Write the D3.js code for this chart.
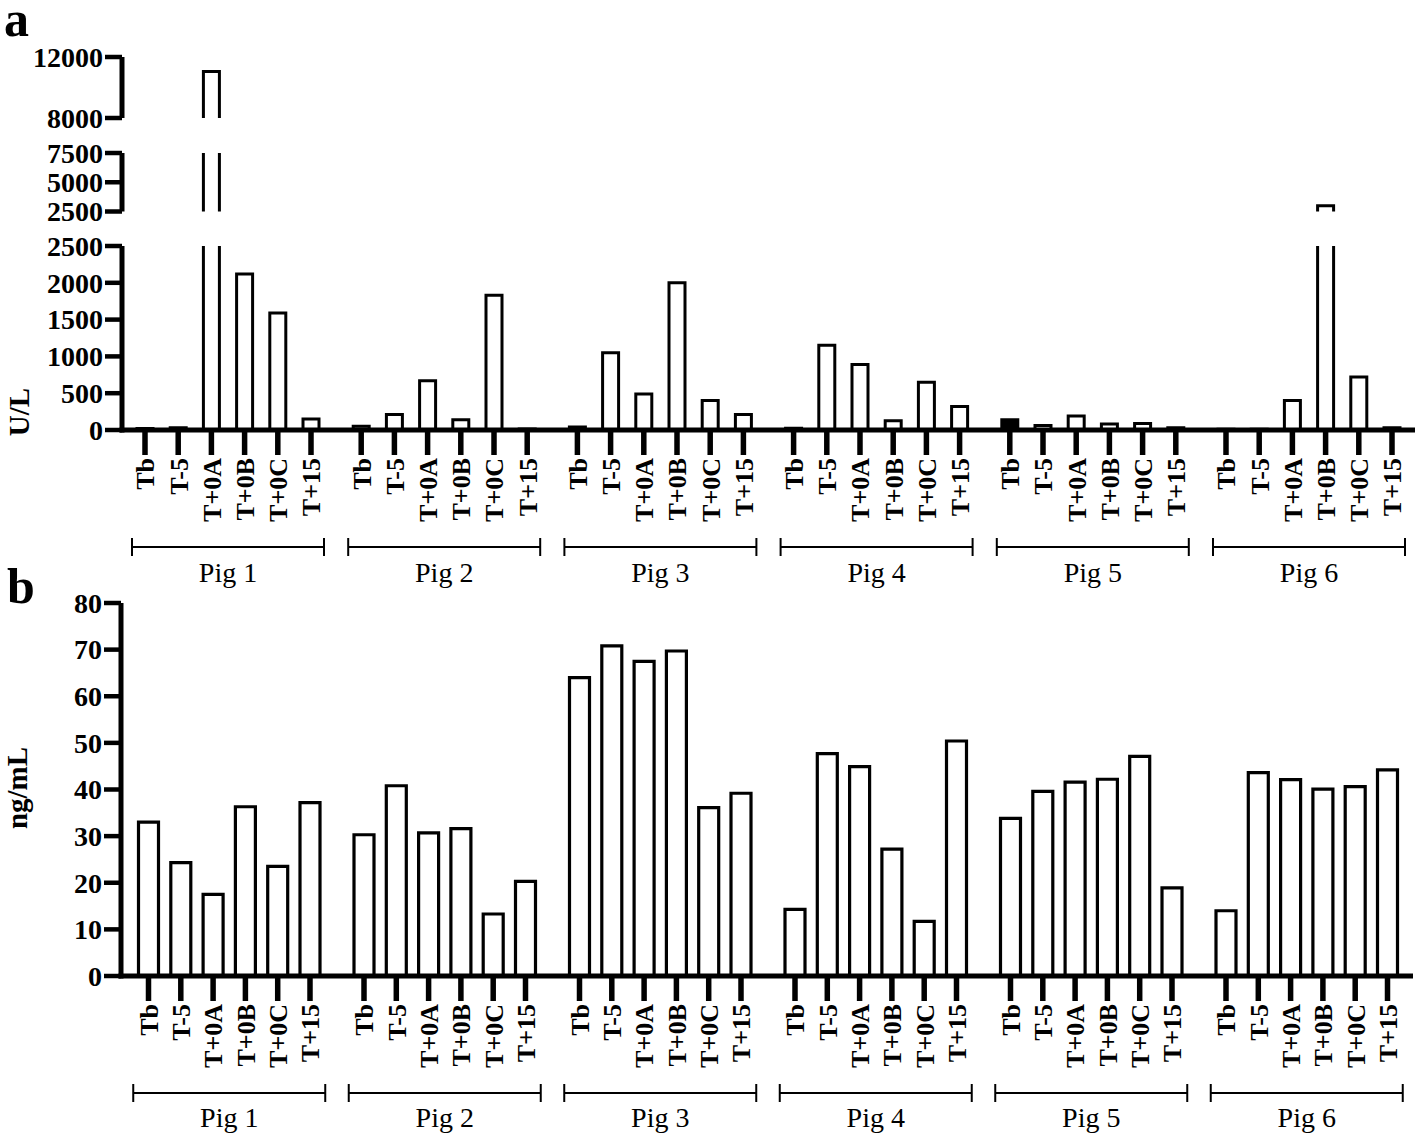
<!DOCTYPE html>
<html>
<head>
<meta charset="utf-8">
<script src="https://cdn.jsdelivr.net/npm/d3@7"></script>
<style>
  body { margin: 0; background: #fff; }
  text { font-family: "Liberation Serif", "Times New Roman", serif; fill: #000; }
</style>
</head>
<body>
<svg id="chart"></svg>
<script>
const pigs = ['Pig 1', 'Pig 2', 'Pig 3', 'Pig 4', 'Pig 5', 'Pig 6'];
const times = ['Tb', 'T-5', 'T+0A', 'T+0B', 'T+0C', 'T+15'];

// panel a, U/L (one row per pig, same order as times)
const ulPig1 = [20, 30, 11050, 2120, 1590, 150];
const ulPig2 = [50, 210, 670, 140, 1830, 15];
const ulPig3 = [40, 1050, 490, 2000, 400, 210];
const ulPig4 = [25, 1150, 890, 125, 650, 320];
const ulPig5 = [140, 60, 190, 80, 90, 30];
const ulPig6 = [10, 10, 400, 3000, 720, 30];
const ulValues = [ulPig1, ulPig2, ulPig3, ulPig4, ulPig5, ulPig6];

// panel b, ng/mL
const ngPig1 = [33, 24.3, 17.5, 36.3, 23.5, 37.2];
const ngPig2 = [30.3, 40.8, 30.7, 31.6, 13.3, 20.3];
const ngPig3 = [64, 70.8, 67.5, 69.7, 36.1, 39.2];
const ngPig4 = [14.3, 47.7, 44.9, 27.2, 11.7, 50.4];
const ngPig5 = [33.8, 39.6, 41.6, 42.2, 47.1, 18.9];
const ngPig6 = [14, 43.6, 42.1, 40.1, 40.6, 44.2];
const ngValues = [ngPig1, ngPig2, ngPig3, ngPig4, ngPig5, ngPig6];

const ulTicksLow = [0, 500, 1000, 1500, 2000, 2500];
const ulTicksMid = [2500, 5000, 7500];
const ulTicksHigh = [8000, 12000];
const ngTicks = [0, 10, 20, 30, 40, 50, 60, 70, 80];

const svg = d3.select('#chart')
  .attr('width', 1418)
  .attr('height', 1137);

function rows(values) {
  const out = [];
  pigs.forEach((p, gi) => times.forEach((t, ti) => out.push({pig: p, time: t, gi: gi, ti: ti, value: values[gi][ti]})));
  return out;
}

function drawPanel(opt) {
  const g = svg.append('g');
  const x0 = d3.scaleBand().domain(pigs).range(opt.groupRange).paddingInner(opt.groupPad);
  const x1 = d3.scalePoint().domain(times).range([0, x0.bandwidth()]).padding(0.5);
  const cx = d => x0(d.pig) + x1(d.time);
  const data = rows(opt.values);
  const bw = opt.barWidth;

  // bars, one piece per axis segment
  opt.segments.forEach(seg => {
    const y = d3.scaleLinear().domain(seg.domain).range(seg.range);
    const inSeg = data.filter(d => d.value > seg.domain[0]);
    const top = d => y(Math.min(d.value, seg.domain[1]));
    const capped = d => d.value <= seg.domain[1];
    const filled = d => opt.filled && d.pig == opt.filled[0] && d.time == opt.filled[1];

    g.selectAll(null)
      .data(inSeg).join('rect')
      .attr('x', d => cx(d) - bw / 2)
      .attr('y', top)
      .attr('width', bw)
      .attr('height', d => y(seg.domain[0]) - top(d))
      .style('fill', d => filled(d) ? '#000' : '#fff');

    g.selectAll(null)
      .data(inSeg).join('path')
      .attr('d', d => {
        const l = cx(d) - bw / 2, r = cx(d) + bw / 2, b = y(seg.domain[0]), t = top(d);
        return capped(d)
          ? `M${l},${b}L${l},${t}L${r},${t}L${r},${b}`
          : `M${l},${b}L${l},${t}M${r},${t}L${r},${b}`;
      })
      .style('fill', 'none')
      .style('stroke', '#000')
      .style('stroke-width', opt.barStroke);

    // y axis piece
    const ax = g.append('g').attr('transform', `translate(${opt.axisX},0)`);
    ax.append('line')
      .attr('y1', seg.range[0] + (seg.domain[0] == 0 ? 2.5 : 0))
      .attr('y2', seg.range[1])
      .style('stroke', '#000')
      .style('stroke-width', 5);
    ax.selectAll(null)
      .data(seg.ticks).join('line')
      .attr('x1', -17).attr('x2', 0)
      .attr('y1', d => y(d)).attr('y2', d => y(d))
      .style('stroke', '#000')
      .style('stroke-width', 4.5);
    ax.selectAll(null)
      .data(seg.ticks).join('text')
      .attr('x', -19)
      .attr('y', d => y(d))
      .attr('dy', '0.35em')
      .attr('text-anchor', 'end')
      .style('font-size', '28px')
      .style('font-weight', 'bold')
      .text(d => d);
  });

  // x axis
  g.append('line')
    .attr('x1', opt.axisX - 2.5).attr('x2', opt.axisEnd)
    .attr('y1', opt.baseY).attr('y2', opt.baseY)
    .style('stroke', '#000')
    .style('stroke-width', 5);

  g.selectAll(null)
    .data(data).join('line')
    .attr('x1', cx).attr('x2', cx)
    .attr('y1', opt.baseY).attr('y2', opt.baseY + 25)
    .style('stroke', '#000')
    .style('stroke-width', 5.5);

  g.selectAll(null)
    .data(data).join('text')
    .attr('transform', d => `translate(${cx(d)},${opt.baseY + 28}) rotate(-90)`)
    .attr('dy', '0.36em')
    .attr('text-anchor', 'end')
    .style('font-size', '26px')
    .style('font-weight', 'bold')
    .text(d => d.time);

  // pig brackets
  const br = g.selectAll(null)
    .data(pigs).join('g')
    .attr('transform', d => `translate(${x0(d) + x0.bandwidth() / 2},${opt.bracketY})`);
  br.append('path')
    .attr('d', 'M-96,-9L-96,9M-96,0L96,0M96,-9L96,9')
    .style('fill', 'none')
    .style('stroke', '#000')
    .style('stroke-width', 2);
  br.append('text')
    .attr('y', opt.bracketY2 - opt.bracketY)
    .attr('text-anchor', 'middle')
    .style('font-size', '28px')
    .text(d => d);

  // axis title and panel letter
  g.append('text')
    .attr('transform', `translate(${opt.titleX},${opt.titleY}) rotate(-90)`)
    .attr('text-anchor', 'middle')
    .style('font-size', '29px')
    .style('font-weight', 'bold')
    .text(opt.title);
  g.append('text')
    .attr('x', opt.letterX).attr('y', opt.letterY)
    .style('font-size', '50px')
    .style('font-weight', 'bold')
    .text(opt.letter);
}

drawPanel({
  values: ulValues,
  groupRange: [128.4, 1408.6], groupPad: 0.0786, barWidth: 16, barStroke: 3,
  axisX: 122, axisEnd: 1415, baseY: 430,
  segments: [
    {domain: [0, 2500], range: [430, 246], ticks: ulTicksLow},
    {domain: [2500, 7500], range: [211.5, 153], ticks: ulTicksMid},
    {domain: [8000, 12000], range: [118, 57], ticks: ulTicksHigh}
  ],
  filled: ['Pig 5', 'Tb'],
  bracketY: 547, bracketY2: 582,
  title: 'U/L', titleX: 29, titleY: 412,
  letter: 'a', letterX: 4, letterY: 36
});

drawPanel({
  values: ngValues,
  groupRange: [132.35, 1403.65], groupPad: 0.1007, barWidth: 20, barStroke: 3.2,
  axisX: 121, axisEnd: 1413, baseY: 976,
  segments: [
    {domain: [0, 80], range: [976, 603], ticks: ngTicks}
  ],
  bracketY: 1093, bracketY2: 1127,
  title: 'ng/mL', titleX: 27, titleY: 788,
  letter: 'b', letterX: 7, letterY: 603
});
</script>
</body>
</html>
